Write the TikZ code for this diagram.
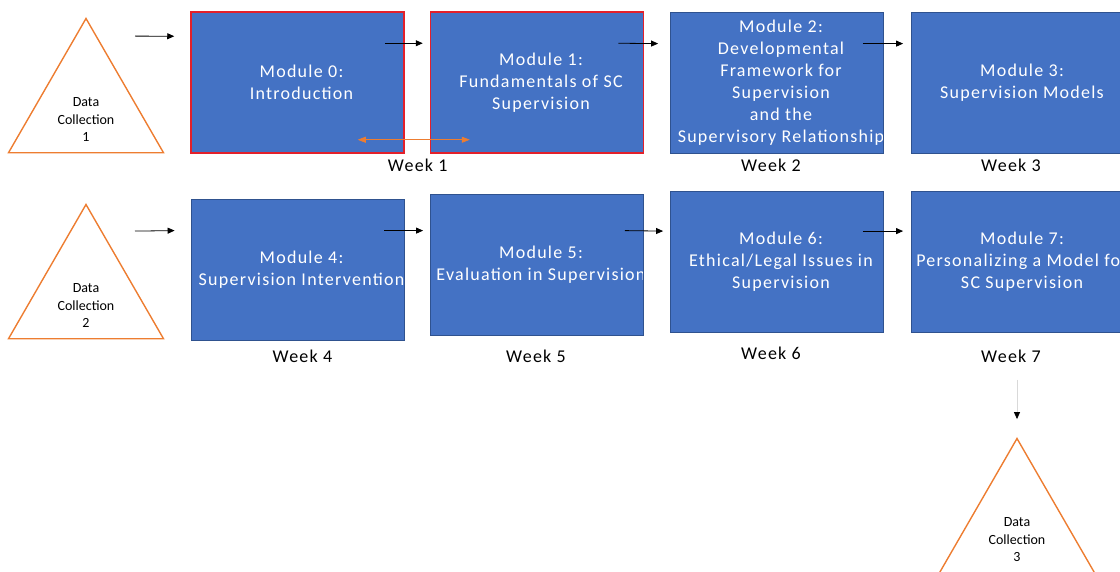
\documentclass[tikz,border=0pt]{standalone}
\usepackage{fontspec}
\setmainfont{Carlito}
\newfontfamily\modfont[LetterSpace=7]{Carlito}
\usepackage{xcolor}
\usepackage{tikz}
\usetikzlibrary{arrows.meta,positioning,shapes.geometric}

\definecolor{modblue}{HTML}{4472C4}
\definecolor{modedge}{HTML}{2F528F}
\definecolor{weekred}{HTML}{E3202A}
\definecolor{dcorange}{HTML}{ED7D31}

\begin{document}
\begin{tikzpicture}[
    x=1pt, y=-1pt,
    node distance=27pt,
    mod/.style={rectangle, fill=modblue, draw=modedge, line width=0.8pt,
        minimum width=213pt, minimum height=141pt, inner sep=0pt,
        path picture={\node[modtext] at ([xshift=4pt]path picture bounding box.center) {#1};}},
    modtext/.style={text=white, align=center, inner sep=0pt, anchor=center,
        font=\modfont\fontsize{18pt}{22pt}\selectfont},
    first/.style={draw=weekred, line width=1.5pt},
    wk/.style={inner sep=0pt, font=\modfont\fontsize{18pt}{22pt}\selectfont},
    dc/.style={regular polygon, regular polygon sides=3, minimum size=179pt,
        inner sep=0pt, draw=dcorange, line width=1.4pt,
        label={[dctext]center:#1}},
    dctext/.style={yshift=-12pt, align=center, inner sep=0pt,
        font=\fontsize{14pt}{17.5pt}\selectfont},
    arr/.style={-{Triangle[length=7pt,width=6pt]}, line width=0.8pt},
    down/.style={-{Triangle[length=7pt,width=6pt,color=black]}, draw=black!15, line width=0.8pt},
    both/.style={{Triangle[length=8pt,width=6pt]}-{Triangle[length=8pt,width=6pt]},
        draw=dcorange, line width=0.6pt}
]
\useasboundingbox (0,0) rectangle (1120,572);

\node (dc1) [dc={Data\\Collection\\1}] at (86,108) {};
\node (m0) [mod={Module 0:\\Introduction}, first] at (297.5,82.5) {};
\node (m1) [mod={Module 1:\\Fundamentals of SC\\Supervision}, first] at (537,82.5) {};
\node (m2) [mod={Module 2:\\Developmental\\Framework for\\Supervision\\and the\\Supervisory Relationship}] at (777,82.5) {};
\node (m3) [mod={Module 3:\\Supervision Models}] at (1018,82.5) {};

\node (dc2) [dc={Data\\Collection\\2}] at (86,294) {};
\node (m4) [mod={Module 4:\\Supervision Intervention}] at (297.5,269.5) {};
\node (m5) [mod={Module 5:\\Evaluation in Supervision}] at (537,264.5) {};
\node (m6) [mod={Module 6:\\Ethical/Legal Issues in\\Supervision}] at (777,262) {};
\node (m7) [mod={Module 7:\\Personalizing a Model for\\SC Supervision}] at (1018,262) {};

\node (w1) [wk, below=5pt of m0.south east, xshift=13pt] {Week 1};
\node (w2) [wk, below=5pt of m2, xshift=-6pt] {Week 2};
\node (w3) [wk, below=5pt of m3, xshift=-7pt] {Week 3};
\node (w4) [wk, below=9pt of m4, xshift=5pt] {Week 4};
\node (w5) [wk, below=14pt of m5, xshift=-1pt] {Week 5};
\node (w6) [wk, below=14pt of m6, xshift=-6pt] {Week 6};
\node (w7) [wk, below=17pt of m7, xshift=-7pt] {Week 7};

\node (dc3) [dc={Data\\Collection\\3}] at (1017,528) {};

\draw[arr] ([shift={(49,19)}]dc1.corner 1) -- ([shift={(-16,25)}]m0.north west);
\draw[arr] ([shift={(-20,32)}]m0.north east) -- ([shift={(-7,32)}]m1.north west);
\draw[arr] ([shift={(-26,32)}]m1.north east) -- ([shift={(-12,32)}]m2.north west);
\draw[arr] ([shift={(-21,32)}]m2.north east) -- ([shift={(-8,32)}]m3.north west);
\draw[arr] ([shift={(49,28)}]dc2.corner 1) -- ([shift={(-16,32)}]m4.north west);
\draw[arr] ([shift={(-20,32)}]m4.north east) -- ([shift={(-7,37)}]m5.north west);
\draw[arr] ([shift={(-19,37)}]m5.north east) -- ([shift={(-7,40)}]m6.north west);
\draw[arr] ([shift={(-21,40)}]m6.north east) -- ([shift={(-8,40)}]m7.north west);
\draw[both] ([shift={(-47,-14)}]m0.south east) -- ([shift={(40,-14)}]m1.south west);
\draw[down] ([shift={(6,17)}]w7.south) -- ([shift={(0,-18)}]dc3.corner 1);
\end{tikzpicture}
\end{document}
